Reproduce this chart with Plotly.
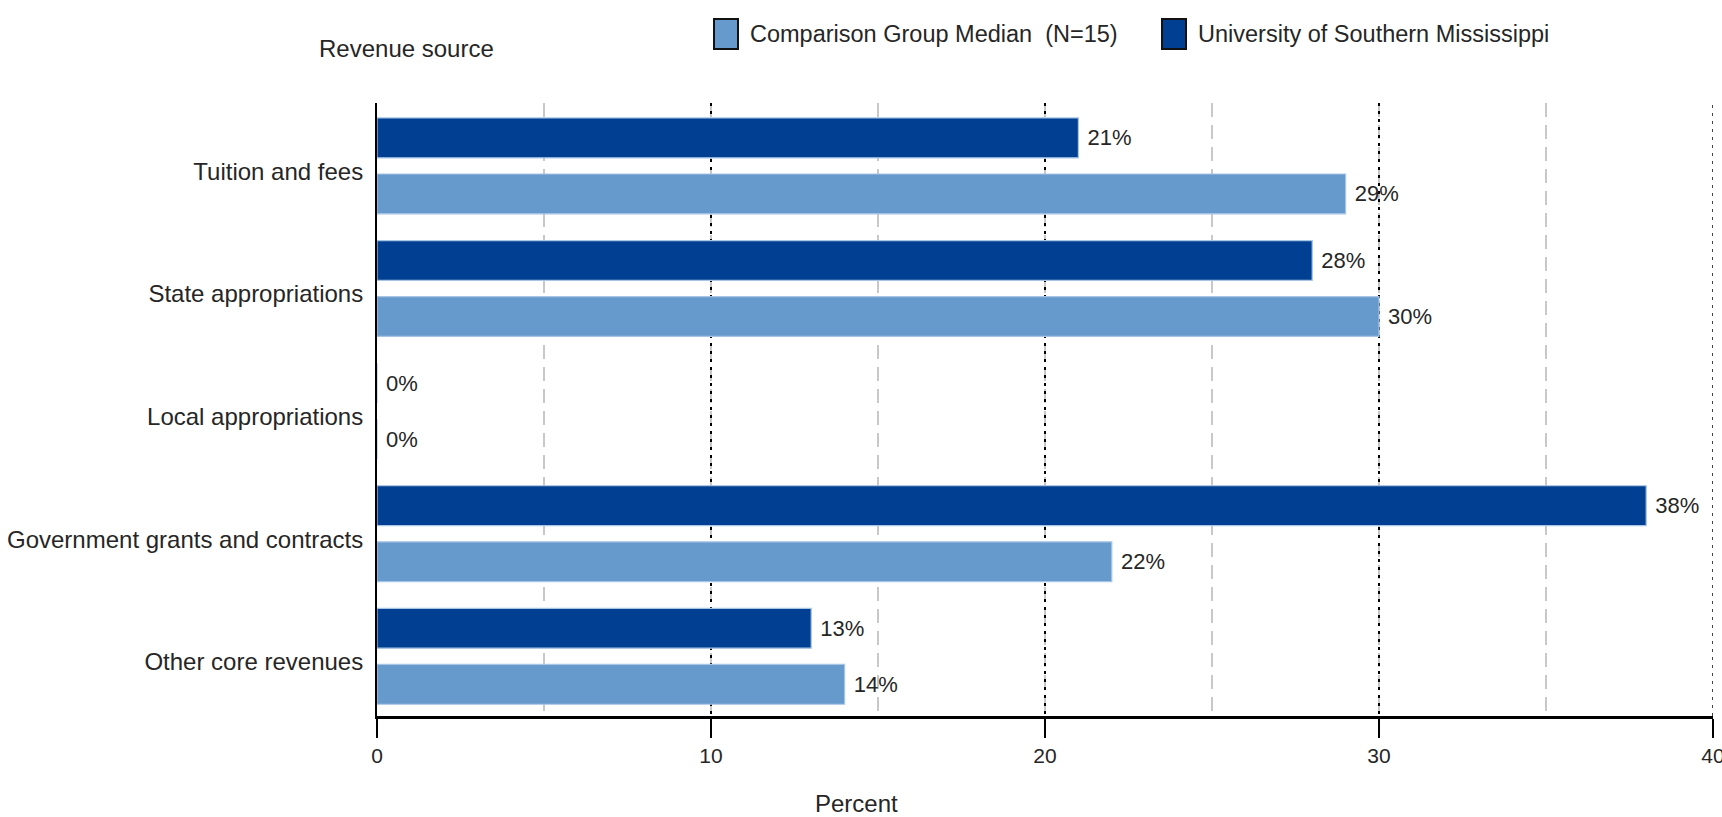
import plotly.graph_objects as go

categories = ["Tuition and fees", "State appropriations", "Local appropriations",
              "Government grants and contracts", "Other core revenues"]
usm_name = "University of Southern Mississippi"
comp_name = "Comparison Group Median  (N=15)"
usm_values = [21, 28, 0, 38, 13]
comp_values = [29, 30, 0, 22, 14]
x_ticks = [0, 10, 20, 30, 40]

DARK = "#003F91"
LIGHT = "#6699CC"
EDGE = "#a8c5e6"
TXT = "#262626"
FONT = "Liberation Sans, Arial, sans-serif"

fig = go.Figure()
fig.add_trace(go.Bar(
    y=categories, x=usm_values, orientation="h", name=usm_name,
    marker=dict(color=DARK, line=dict(color=EDGE, width=1.2)),
    width=0.325, offset=-0.378,
    texttemplate="\u00a0%{x}%", textposition="outside", cliponaxis=False,
    textfont=dict(size=22, color=TXT, family=FONT), showlegend=False))
fig.add_trace(go.Bar(
    y=categories, x=comp_values, orientation="h", name=comp_name,
    marker=dict(color=LIGHT, line=dict(color=EDGE, width=1.2)),
    width=0.325, offset=0.079,
    texttemplate="\u00a0%{x}%", textposition="outside", cliponaxis=False,
    textfont=dict(size=22, color=TXT, family=FONT), showlegend=False))

fig.update_layout(
    width=1722, height=817,
    margin=dict(l=377, r=9, t=103, b=101, autoexpand=False),
    paper_bgcolor="white", plot_bgcolor="white",
    barmode="overlay",
    font=dict(family=FONT, color=TXT, size=22),
    xaxis=dict(
        range=[0, 40], tickvals=x_ticks, ticktext=[str(v) for v in x_ticks],
        showgrid=True, gridcolor="black", gridwidth=1.5, griddash="3px,5px",
        minor=dict(dtick=5, tick0=0, showgrid=True, gridcolor="#c8c8c8",
                   gridwidth=1.5, griddash="14px,8px"),
        showline=True, linecolor="black", linewidth=2.5,
        ticks="outside", ticklen=19, tickwidth=2, tickcolor="black",
        tickfont=dict(size=21, color=TXT), zeroline=False, automargin=False,
        ticklabeloverflow="allow",
    ),
    yaxis=dict(
        categoryorder="array", categoryarray=categories,
        range=[4.5, -0.5], showgrid=False, zeroline=False,
        showline=True, linecolor="black", linewidth=2,
        ticks="", tickfont=dict(size=24, color=TXT), ticklabelstandoff=7,
        ticklabelshift=-7, automargin=False,
    ),
)

# gridline at the last tick (plotly drops grid lines on the range edge)
fig.add_shape(type="line", xref="x", yref="paper",
              x0=x_ticks[-1], x1=x_ticks[-1], y0=0, y1=1,
              line=dict(color="black", width=1.5, dash="3px,5px"), layer="below")

# axis titles
fig.add_annotation(text="Revenue source", xref="paper", yref="paper",
                   x=(406 - 377) / 1336, y=1 + (103 - 49) / 613,
                   showarrow=False, font=dict(size=24, color=TXT),
                   xanchor="center", yanchor="middle")
fig.add_annotation(text="Percent", xref="paper", yref="paper",
                   x=(856 - 377) / 1336, y=-(803 - 716) / 613,
                   showarrow=False, font=dict(size=24, color=TXT),
                   xanchor="center", yanchor="middle")

# custom legend
legend_items = [(comp_name, LIGHT, 714), (usm_name, DARK, 1162)]
for name, col, x0 in legend_items:
    fig.add_shape(type="rect", xref="paper", yref="paper",
                  x0=(x0 - 377) / 1336, x1=(x0 + 24 - 377) / 1336,
                  y0=1 + (103 - 49) / 613, y1=1 + (103 - 19) / 613,
                  fillcolor=col, line=dict(color="#111111", width=2))
    fig.add_annotation(text=name, xref="paper", yref="paper",
                       x=(x0 + 34 - 377) / 1336, y=1 + (103 - 34) / 613,
                       showarrow=False, font=dict(size=23.5, color=TXT),
                       xanchor="left", yanchor="middle")

fig.write_html("out.html", config={"displayModeBar": False},
               post_script="document.body.style.margin='0';")
